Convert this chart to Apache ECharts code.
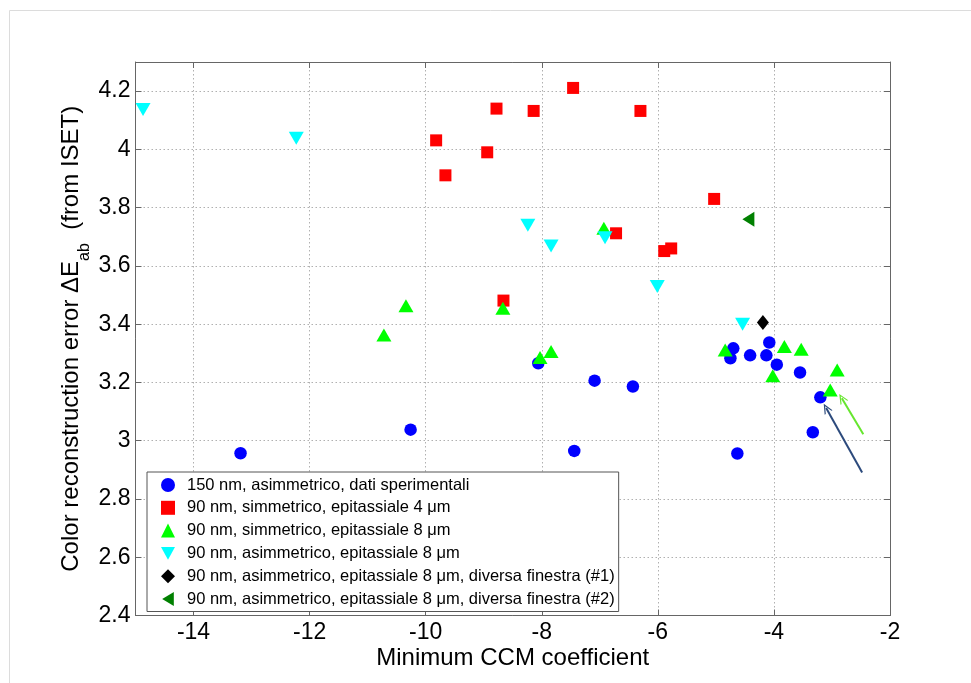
<!DOCTYPE html>
<html>
<head>
<meta charset="utf-8">
<script src="https://cdn.jsdelivr.net/npm/echarts@6/dist/echarts.min.js"></script>
<style>
html,body{margin:0;padding:0;background:#fff;}
#chart{width:971px;height:683px;}
</style>
</head>
<body>
<div id="chart"></div>
<script>
// ---- data ----
const seriesNames = [
  '150 nm, asimmetrico, dati sperimentali',
  '90 nm, simmetrico, epitassiale 4 \u03bcm',
  '90 nm, simmetrico, epitassiale 8 \u03bcm',
  '90 nm, asimmetrico, epitassiale 8 \u03bcm',
  '90 nm, asimmetrico, epitassiale 8 \u03bcm, diversa finestra (#1)',
  '90 nm, asimmetrico, epitassiale 8 \u03bcm, diversa finestra (#2)'
];
const blueX = [-13.19, -10.26, -8.06, -7.09, -6.43, -7.44, -4.63, -4.70, -4.75, -4.41, -4.08, -4.13, -3.95, -3.55, -3.20, -3.33];
const blueY = [2.957, 3.038, 3.266, 3.206, 3.186, 2.965, 2.956, 3.317, 3.283, 3.293, 3.337, 3.293, 3.261, 3.234, 3.149, 3.029];
const redX = [-9.82, -8.78, -8.14, -8.94, -9.66, -8.66, -7.46, -6.30, -5.03, -6.72, -5.89, -5.77];
const redY = [4.031, 4.140, 4.132, 3.990, 3.911, 3.481, 4.211, 4.132, 3.830, 3.712, 3.651, 3.660];
const greenX = [-10.72, -10.34, -8.67, -8.03, -7.84, -6.93, -4.84, -3.82, -3.53, -4.02, -2.91, -3.03];
const greenY = [3.363, 3.463, 3.455, 3.286, 3.306, 3.729, 3.311, 3.323, 3.314, 3.223, 3.243, 3.174];
const cyanX = [-14.87, -12.23, -8.24, -7.84, -6.91, -6.01, -4.54];
const cyanY = [4.137, 4.038, 3.740, 3.668, 3.697, 3.529, 3.400];
const blackX = [-4.19];
const blackY = [3.406];
const dgreenX = [-4.44];
const dgreenY = [3.760];
// annotation arrows: [fromX, fromY, toX, toY]
const arrowBlue = [-2.48, 2.891, -3.10, 3.112];
const arrowGreen = [-2.46, 3.022, -2.83, 3.146];
const xMin = -15, xMax = -2, yMin = 2.4, yMax = 4.3, yStep = 0.2;

const zip = (xs, ys) => xs.map((x, i) => [x, ys[i]]);

const chart = echarts.init(document.getElementById('chart'), null, {renderer: 'canvas'});
const FONT = 'Liberation Sans, Arial, Helvetica, sans-serif';
const frameColor = '#666666';

const downTri = 'path://M0,0 L10,0 L5,9 Z';
const leftTri = 'path://M10,0 L10,12 L0,6 Z';
const chevron = 'path://M5,0 L10,9 L8.6,9 L5,2.6 L1.4,9 L0,9 Z';

function arrowLine(a) {
  return [{coord: [a[0], a[1]], symbol: 'none'}, {coord: [a[2], a[3]], symbol: chevron, symbolSize: [9, 10]}];
}

const option = {
  animation: false,
  backgroundColor: '#ffffff',
  textStyle: {fontFamily: FONT},
  graphic: [{
    type: 'rect', silent: true, z: -10,
    shape: {x: 9.5, y: 10.5, width: 1100, height: 1100},
    style: {fill: 'none', stroke: '#dcdcdc', lineWidth: 1}
  }],
  grid: {left: 135.5, top: 62, right: 81, bottom: 67.5, containLabel: false},
  legend: {
    orient: 'vertical',
    left: 147, top: 472,
    padding: [4.5, 4, 4, 14],
    itemWidth: 14, itemHeight: 14, itemGap: 5.8,
    backgroundColor: '#ffffff',
    borderColor: '#555555', borderWidth: 1, borderRadius: 0,
    textStyle: {fontFamily: FONT, fontSize: 16.5, color: '#000', lineHeight: 16, padding: [0, 0, 0, 7]},
    data: seriesNames
  },
  xAxis: [{
    type: 'value', min: xMin, max: xMax, splitNumber: 6,
    position: 'bottom',
    name: 'Minimum CCM coefficient', nameLocation: 'middle', nameGap: 31,
    nameMoveOverlap: false,
    nameTextStyle: {fontFamily: FONT, fontSize: 24, color: '#000'},
    axisLine: {show: true, onZero: false, lineStyle: {color: frameColor, width: 1}},
    axisTick: {show: true, inside: true, length: 6, lineStyle: {color: frameColor}},
    axisLabel: {
      fontFamily: FONT, fontSize: 23, color: '#000', margin: 6,
      formatter: v => (Math.abs(v % 2) < 1e-9 ? String(v) : '')
    },
    splitLine: {show: true, lineStyle: {color: '#b0b0b0', type: [1.5, 2.5], width: 1}}
  }, {
    type: 'value', min: xMin, max: xMax, splitNumber: 6,
    position: 'top',
    axisLine: {show: true, onZero: false, lineStyle: {color: frameColor, width: 1}},
    axisTick: {show: true, inside: true, length: 6, lineStyle: {color: frameColor}},
    axisLabel: {show: false},
    splitLine: {show: false}
  }],
  yAxis: [{
    type: 'value', min: yMin, max: yMax, interval: yStep,
    position: 'left',
    name: 'Color reconstruction error {g|\u0394}E{s|ab}  (from ISET)',
    nameLocation: 'middle', nameGap: 49,
    nameMoveOverlap: false,
    nameTextStyle: {
      fontFamily: FONT, fontSize: 24, color: '#000', lineHeight: 30,
      rich: {
        g: {fontFamily: FONT, fontSize: 24, color: '#000', lineHeight: 30},
        s: {fontFamily: FONT, fontSize: 16, color: '#000', lineHeight: 30, verticalAlign: 'bottom', padding: [0, 0, -6, 0]}
      }
    },
    axisLine: {show: true, onZero: false, lineStyle: {color: frameColor, width: 1}},
    axisTick: {show: true, inside: true, length: 6, lineStyle: {color: frameColor}},
    axisLabel: {
      fontFamily: FONT, fontSize: 23, color: '#000', margin: 5,
      formatter: v => (Math.abs(v / yStep - Math.round(v / yStep)) < 1e-6 && v < 4.25 ? String(Math.round(v * 10) / 10) : '')
    },
    splitLine: {show: true, lineStyle: {color: '#b0b0b0', type: [1.5, 2.5], width: 1}}
  }, {
    type: 'value', min: yMin, max: yMax, interval: yStep,
    position: 'right',
    axisLine: {show: true, onZero: false, lineStyle: {color: frameColor, width: 1}},
    axisTick: {show: true, inside: true, length: 6, lineStyle: {color: frameColor}},
    axisLabel: {show: false},
    splitLine: {show: false}
  }],
  series: [
    {
      name: seriesNames[0], type: 'scatter', symbol: 'circle', symbolSize: 12.5,
      itemStyle: {color: '#0000ff', opacity: 1}, data: zip(blueX, blueY),
      markLine: {
        silent: true, animation: false, label: {show: false},
        data: [arrowLine(arrowBlue)],
        lineStyle: {color: '#2c4a7c', width: 2, type: 'solid'},
        emphasis: {disabled: true}
      }
    },
    {
      name: seriesNames[1], type: 'scatter', symbol: 'rect', symbolSize: 12,
      itemStyle: {color: '#ff0000', opacity: 1}, data: zip(redX, redY),
      markLine: {
        silent: true, animation: false, label: {show: false},
        data: [arrowLine(arrowGreen)],
        lineStyle: {color: '#66e62e', width: 2, type: 'solid'},
        emphasis: {disabled: true}
      }
    },
    {
      name: seriesNames[2], type: 'scatter', symbol: 'triangle', symbolSize: [15, 13],
      itemStyle: {color: '#00ff00', opacity: 1}, data: zip(greenX, greenY)
    },
    {
      name: seriesNames[3], type: 'scatter', symbol: downTri, symbolSize: [15, 13],
      itemStyle: {color: '#00ffff', opacity: 1}, data: zip(cyanX, cyanY)
    },
    {
      name: seriesNames[4], type: 'scatter', symbol: 'diamond', symbolSize: [12, 15],
      itemStyle: {color: '#000000', opacity: 1}, data: zip(blackX, blackY)
    },
    {
      name: seriesNames[5], type: 'scatter', symbol: leftTri, symbolSize: [12, 15],
      itemStyle: {color: '#008000', opacity: 1}, data: zip(dgreenX, dgreenY)
    }
  ]
};
chart.setOption(option);
</script>
</body>
</html>
